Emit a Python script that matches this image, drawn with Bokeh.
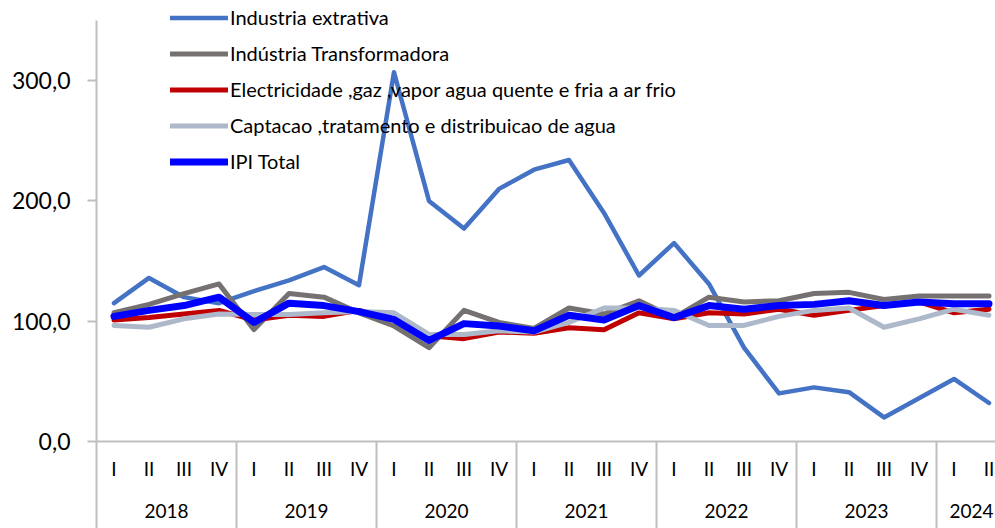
from bokeh.plotting import figure
from bokeh.models import (Range1d, FixedTicker, LinearAxis, Legend, LegendItem)
from bokeh.embed import file_html
from bokeh.resources import INLINE

# ---- data ----
years = ["2018", "2019", "2020", "2021", "2022", "2023", "2024"]
quarters_per_year = [4, 4, 4, 4, 4, 4, 2]
quarter_names = ["I", "II", "III", "IV"]
quarter_labels = [q for n in quarters_per_year for q in quarter_names[:n]]

extrativa = [115, 136, 120, 115, 125, 134, 145, 130,
             307, 200, 177, 210, 226, 234, 190, 138,
             165, 131, 78, 40, 45, 41, 20, 36, 52, 32]
transformadora = [107, 114, 123, 131, 93, 123, 120, 107,
                  96, 78, 109, 99, 94, 111, 106, 117,
                  103, 120, 116, 117, 123, 124, 118, 121, 121, 121]
electricidade = [101, 103, 106, 109, 101, 105, 104, 109,
                 102, 88, 85.5, 91, 90, 94.5, 93, 107,
                 102, 107, 106, 110, 105, 109, 113, 116, 107, 110]
captacao = [96.5, 95, 102, 106, 105.5, 105.5, 107, 108,
            107, 89, 89, 92, 91, 99, 111, 111,
            109, 96.5, 96.5, 104, 109, 111, 95, 102, 110, 105]
ipi_total = [104, 109, 113, 120, 99, 115, 113, 108,
             101.5, 84, 98, 96, 92, 105, 101, 113,
             103, 113, 110, 113, 114, 117, 113, 116, 114.5, 114.5]

series_names = ["Industria extrativa", "Indústria Transformadora",
                "Electricidade ,gaz ,vapor agua quente e fria a ar frio",
                "Captacao ,tratamento e distribuicao de agua", "IPI Total"]
series_values = [extrativa, transformadora, electricidade, captacao, ipi_total]
series_colors = ["#4472C4", "#767171", "#C00000", "#ADB9CA", "#0000FF"]
series_widths = [4.5, 5, 5, 5, 7]

y_ticks = [0, 100, 200, 300]
y_tick_labels = ["0,0", "100,0", "200,0", "300,0"]
y_axis_max = 350

# ---- derived positions ----
x = [i + 0.5 for i in range(len(quarter_labels))]
bounds = [0]
for n in quarters_per_year:
    bounds.append(bounds[-1] + n)
year_centers = [(bounds[i] + bounds[i + 1]) / 2 for i in range(len(years))]

FONT = "Lato"
AXIS_COLOR = "#BFBFBF"

# frame spans pixel rows 0..441; the axis itself stops at y_axis_max (20 px below the top)
p = figure(width=995, height=528, output_backend="svg", toolbar_location=None,
           x_range=Range1d(0, 899 / 35), y_range=Range1d(0, y_axis_max * 441 / 421),
           x_axis_type=None, y_axis_type=None,
           min_border_left=96, min_border_right=0, min_border_top=0,
           min_border_bottom=87)
p.outline_line_color = None
p.xgrid.visible = False
p.ygrid.visible = False

# y axis
yax = LinearAxis(ticker=FixedTicker(ticks=y_ticks), bounds=(0, y_axis_max),
                 major_label_overrides={t: l for t, l in zip(y_ticks, y_tick_labels)})
yax.axis_line_color = AXIS_COLOR
yax.axis_line_width = 2
yax.major_tick_line_color = AXIS_COLOR
yax.major_tick_line_width = 2
yax.major_tick_in = 0
yax.major_tick_out = 9
yax.minor_tick_line_color = None
yax.major_label_standoff = 17
yax.major_label_text_font = FONT
yax.major_label_text_font_size = "23px"
yax.major_label_text_color = "#000000"
p.add_layout(yax, "left")

# quarter axis (year separators drawn as its minor ticks)
qax = LinearAxis(ticker=FixedTicker(ticks=x, minor_ticks=bounds[:-1]),
                 major_label_overrides={t: l for t, l in zip(x, quarter_labels)})
qax.axis_line_color = AXIS_COLOR
qax.axis_line_width = 2
qax.major_tick_line_color = None
qax.major_tick_in = 0
qax.major_tick_out = 0
qax.minor_tick_line_color = AXIS_COLOR
qax.minor_tick_line_width = 2
qax.minor_tick_in = 0
qax.minor_tick_out = 87
qax.major_label_standoff = -72
qax.major_label_text_font = FONT
qax.major_label_text_font_size = "19px"
qax.major_label_text_color = "#000000"
p.add_layout(qax, "below")

# year axis
yrax = LinearAxis(ticker=FixedTicker(ticks=year_centers),
                  major_label_overrides={t: l for t, l in zip(year_centers, years)})
yrax.axis_line_color = None
yrax.major_tick_line_color = None
yrax.minor_tick_line_color = None
yrax.major_tick_in = 0
yrax.major_tick_out = 0
yrax.major_label_standoff = 21
yrax.major_label_text_font = FONT
yrax.major_label_text_font_size = "19px"
yrax.major_label_text_color = "#000000"
p.add_layout(yrax, "below")

items = []
for name, vals, col, w in zip(series_names, series_values, series_colors, series_widths):
    r = p.line(x, vals, line_color=col, line_width=w, line_join="round", line_cap="round")
    items.append(LegendItem(label=name, renderers=[r]))

legend = Legend(items=items, location=(74, 268))
legend.glyph_width = 58
legend.glyph_height = 21
legend.label_height = 21
legend.spacing = 12
legend.padding = 0
legend.margin = 0
legend.label_standoff = 2
legend.border_line_color = None
legend.background_fill_alpha = 0
legend.label_text_font = FONT
legend.label_text_font_size = "20px"
legend.label_text_color = "#000000"
p.add_layout(legend, "center")

open("out.html", "w").write(file_html(p, INLINE))
